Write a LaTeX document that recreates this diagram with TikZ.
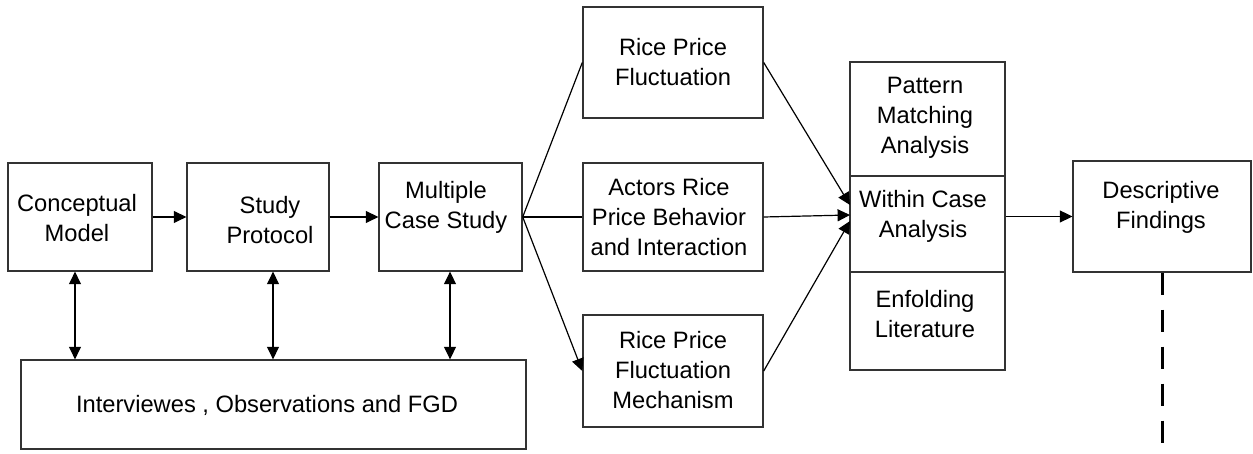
\documentclass[tikz,border=0pt]{standalone}
\usepackage{fontspec}
\setmainfont{Liberation Sans}
\usetikzlibrary{arrows.meta}
\begin{document}
\begin{tikzpicture}[x=0.5pt,y=-0.5pt,
  box/.style={draw=black!80,line width=0.7pt,rectangle,inner sep=0pt},
  txt/.style={align=center,inner sep=0pt,font=\fontsize{11.85pt}{15pt}\selectfont},
  conn/.style={draw=black,line width=0.6pt},
  arr/.style={conn,-{Triangle[length=6.2pt,width=6pt]}},
  darr/.style={conn,{Triangle[length=6.2pt,width=6pt]}-{Triangle[length=6.2pt,width=6pt]}},
  dashline/.style={draw=black,line width=1.5pt,dash pattern=on 11pt off 7.5pt}]
\useasboundingbox (0,0) rectangle (1253,454);
% boxes
\node[box,minimum width=72pt,minimum height=54pt] (cm) at (80,217) {};
\node[box,minimum width=71pt,minimum height=54pt] (sp) at (258,217) {};
\node[box,minimum width=71.5pt,minimum height=54pt] (mcs) at (450.5,217) {};
\node[box,minimum width=252.5pt,minimum height=44.5pt] (iv) at (273.5,404.5) {};
\node[box,minimum width=90pt,minimum height=55.5pt] (rpf) at (673,62.5) {};
\node[box,minimum width=90pt,minimum height=54pt] (act) at (673,217) {};
\node[box,minimum width=90pt,minimum height=56pt] (mech) at (673,371) {};
\node[box,minimum width=77.5pt,minimum height=57pt] (pat) at (927.5,119) {};
\node[box,minimum width=77.5pt,minimum height=48pt] (win) at (927.5,224) {};
\node[box,minimum width=77.5pt,minimum height=49pt] (enf) at (927.5,321) {};
\node[box,minimum width=89pt,minimum height=55.5pt] (df) at (1162,216.5) {};
% texts
\node[txt] (cmt) at (77,218) {Conceptual\\Model};
\node[txt] (spt) at (270,220) {Study\\Protocol};
\node[txt] (mcst) at (446,207) {Multiple\\Case Study};
\node[txt] (ivt) at (267,405) {Interviewes , Observations and FGD};
\node[txt] (rpft) at (673,62) {Rice Price\\Fluctuation};
\node[txt] (actt) at (669,217) {Actors Rice\\Price Behavior\\and Interaction};
\node[txt] (mecht) at (673,370) {Rice Price\\Fluctuation\\Mechanism};
\node[txt] (patt) at (925,118) {Pattern\\Matching\\Analysis};
\node[txt] (wint) at (923,216) {Within Case\\Analysis};
\node[txt] (enft) at (925,314) {Enfolding\\Literature};
\node[txt] (dft) at (1161,207) {Descriptive\\Findings};
% helper coordinates
\coordinate (x1) at (75,0);
\coordinate (x2) at (273,0);
\coordinate (x3) at (450,0);
\coordinate (t1) at (850,205);
\coordinate (t2) at (850,215);
\coordinate (t3) at (850,221);
\coordinate (dend) at (1162,447);
% connectors
\draw[arr] (cm.east) -- (sp.west);
\draw[arr] (sp.east) -- (mcs.west);
\draw[darr] (cm.south -| x1) -- (iv.north -| x1);
\draw[darr] (sp.south -| x2) -- (iv.north -| x2);
\draw[darr] (mcs.south -| x3) -- (iv.north -| x3);
\draw[conn] (mcs.east) -- (rpf.west);
\draw[conn] (mcs.east) -- (act.west);
\draw[arr] (mcs.east) -- (mech.west);
\draw[arr] (rpf.east) -- (t1);
\draw[arr] (act.east) -- (t2);
\draw[arr] (mech.east) -- (t3);
\draw[arr] (win.east |- df.west) -- (df.west);
\draw[dashline] (df.south) -- (dend);
\end{tikzpicture}
\end{document}
